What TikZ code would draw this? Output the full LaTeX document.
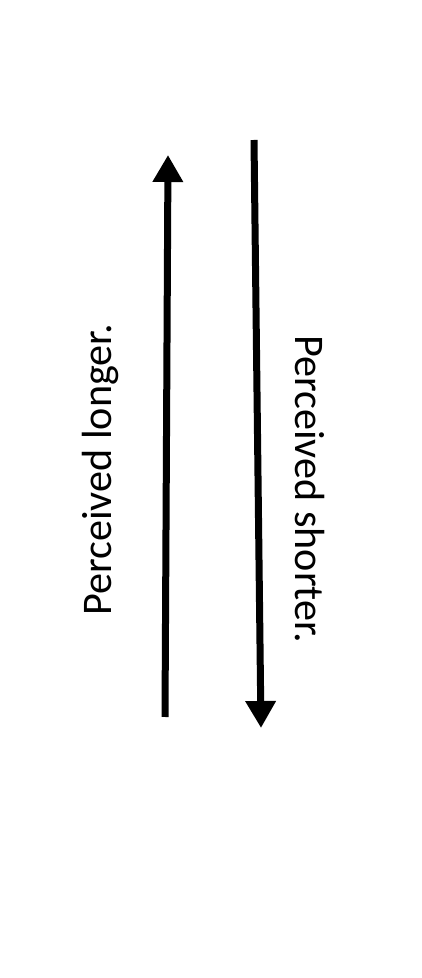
\documentclass[tikz,border=0pt]{standalone}
\usepackage{fontspec}
\setmainfont{Carlito}
\usetikzlibrary{arrows.meta}

\begin{document}
\begin{tikzpicture}[
    arr/.style={-{Triangle[length=0.54cm, width=0.58cm]}, line width=0.14cm},
    lbl/.style={font=\fontsize{24}{28}\selectfont, inner sep=0pt}
]
\useasboundingbox (0,0) rectangle (8.42,19.56);
\coordinate (Lb) at (3.30,5.22);
\coordinate (Lt) at (3.36,16.46);
\coordinate (Rt) at (5.08,16.76);
\coordinate (Rb) at (5.22,5.00);
\node[lbl, rotate=90] (longer) at (2.00,10.16) {Perceived longer.};
\node[lbl, rotate=-90] (shorter) at (6.20,9.78) {Perceived shorter.};

\draw[arr] (Lb) -- (Lt);
\draw[arr] (Rt) -- (Rb);
\end{tikzpicture}
\end{document}
